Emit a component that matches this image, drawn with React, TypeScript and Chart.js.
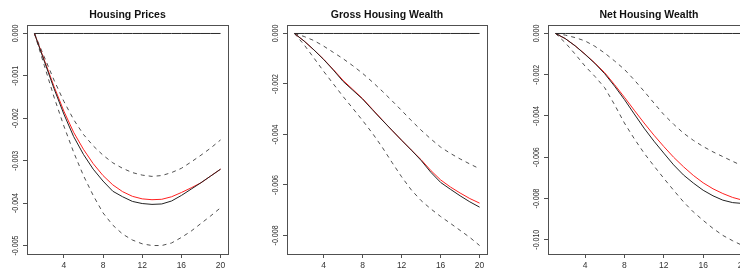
import React, { useEffect, useRef } from "react";
import { Chart, registerables } from "chart.js";

Chart.register(...registerables);

// ---------- data ----------
const periods = [1, 2, 3, 4, 5, 6, 7, 8, 9, 10, 11, 12, 13, 14, 15, 16, 17, 18, 19, 20];

const zeroLine = [0, 0, 0, 0, 0, 0, 0, 0, 0, 0, 0, 0, 0, 0, 0, 0, 0, 0, 0, 0];

// Housing Prices
const hpBlack = [0, -0.00065, -0.0013, -0.0019, -0.00243, -0.00285, -0.0032, -0.00348, -0.00372, -0.00385,
  -0.00396, -0.00401, -0.00403, -0.00402, -0.00395, -0.00382, -0.00367, -0.00352, -0.00336, -0.0032];
const hpRed = [0, -0.00062, -0.00125, -0.00183, -0.00233, -0.00273, -0.00307, -0.00335, -0.00357, -0.00373,
  -0.00384, -0.0039, -0.00392, -0.00391, -0.00385, -0.00375, -0.00364, -0.00352, -0.00336, -0.0032];
const hpUpper = [0, -0.00055, -0.0011, -0.0016, -0.00203, -0.00238, -0.00265, -0.00287, -0.00305, -0.00318,
  -0.00328, -0.00334, -0.00337, -0.00335, -0.00328, -0.00318, -0.00303, -0.00287, -0.0027, -0.00251];
const hpLower = [0, -0.00075, -0.0015, -0.00218, -0.0028, -0.00335, -0.00382, -0.00423, -0.00452, -0.00473,
  -0.00487, -0.00496, -0.005, -0.005, -0.00494, -0.00481, -0.00466, -0.00448, -0.0043, -0.00411];

// Gross Housing Wealth
const ghwBlack = [0, -0.0003, -0.00065, -0.00103, -0.00145, -0.0019, -0.00225, -0.0026, -0.00302, -0.00343,
  -0.00383, -0.00423, -0.00462, -0.00503, -0.0055, -0.0059, -0.00617, -0.00643, -0.00667, -0.00688];
const ghwRed = [0, -0.0003, -0.00065, -0.00102, -0.00143, -0.00186, -0.00222, -0.00258, -0.003, -0.00342,
  -0.00383, -0.00423, -0.00462, -0.005, -0.00543, -0.0058, -0.00608, -0.00632, -0.00654, -0.00672];
const ghwUpper = [0, -0.00012, -0.00028, -0.0005, -0.00075, -0.001, -0.00128, -0.00158, -0.00192, -0.00228,
  -0.00266, -0.00305, -0.00345, -0.00383, -0.00418, -0.0045, -0.00475, -0.00497, -0.00517, -0.00536];
const ghwLower = [0, -0.00045, -0.00097, -0.0015, -0.002, -0.0025, -0.00297, -0.00345, -0.00395, -0.0045,
  -0.0051, -0.00568, -0.0062, -0.00662, -0.00695, -0.00725, -0.00752, -0.0078, -0.00808, -0.0084];

// Net Housing Wealth
const nhwBlack = [0, -0.00025, -0.0006, -0.00101, -0.00145, -0.00195, -0.00255, -0.0032, -0.0039, -0.00459,
  -0.00522, -0.0058, -0.00637, -0.00686, -0.00725, -0.0076, -0.00787, -0.00808, -0.0082, -0.00824];
const nhwRed = [0, -0.00025, -0.0006, -0.001, -0.00143, -0.0019, -0.00248, -0.00309, -0.00372, -0.00434,
  -0.00493, -0.00548, -0.006, -0.00646, -0.00688, -0.00724, -0.00753, -0.00776, -0.00795, -0.00808];
const nhwUpper = [0, -0.00008, -0.0002, -0.00036, -0.00062, -0.00095, -0.00133, -0.00174, -0.00225, -0.0028,
  -0.00337, -0.00393, -0.0044, -0.00483, -0.00518, -0.00548, -0.00574, -0.00597, -0.0062, -0.00642];
const nhwLower = [0, -0.00045, -0.001, -0.00158, -0.00208, -0.00263, -0.00345, -0.00434, -0.0051, -0.0058,
  -0.00642, -0.00702, -0.0076, -0.00816, -0.00865, -0.00906, -0.00945, -0.00979, -0.01005, -0.01028];

const xTickValues = [4, 8, 12, 16, 20];
const xTickLabels = ["4", "8", "12", "16", "20"];

const hpYTicks = [0, -0.001, -0.002, -0.003, -0.004, -0.005];
const hpYLabels = ["0.000", "-0.001", "-0.002", "-0.003", "-0.004", "-0.005"];
const ghwYTicks = [0, -0.002, -0.004, -0.006, -0.008];
const ghwYLabels = ["0.000", "-0.002", "-0.004", "-0.006", "-0.008"];
const nhwYTicks = [0, -0.002, -0.004, -0.006, -0.008, -0.01];
const nhwYLabels = ["0.000", "-0.002", "-0.004", "-0.006", "-0.008", "-0.010"];

const titles = ["Housing Prices", "Gross Housing Wealth", "Net Housing Wealth"];

// ---------- component ----------
type PanelProps = {
  left: number;
  width: number;
  boxLeft: number;
  boxRight: number;
  title: string;
  black: number[];
  red: number[];
  upper: number[];
  lower: number[];
  yTicks: number[];
  yLabels: string[];
};

const H = 271;
const BOX_TOP = 25;
const BOX_BOTTOM = 254;

function toPts(arr: number[]) {
  return periods.map((p, i) => ({ x: p, y: arr[i] }));
}

function Panel(props: PanelProps) {
  const ref = useRef<HTMLCanvasElement | null>(null);
  useEffect(() => {
    const canvas = ref.current;
    if (!canvas) return;
    const all = [...props.black, ...props.red, ...props.upper, ...props.lower, ...zeroLine];
    const dMin = Math.min(...all);
    const dMax = Math.max(...all);
    const r = dMax - dMin;
    const yMin = dMin - 0.04 * r;
    const yMax = dMax + 0.04 * r;
    const xr = periods[periods.length - 1] - periods[0];
    const xMin = periods[0] - 0.04 * xr;
    const xMax = periods[periods.length - 1] + 0.04 * xr;
    const yAxisWidth = props.boxLeft - props.left;
    const rightPad = props.width - (props.boxRight - props.left);

    const framePlugin = {
      id: "rframe",
      afterDraw(chart: any) {
        const { ctx, chartArea } = chart;
        const ys = chart.scales.y;
        ctx.save();
        ctx.strokeStyle = "#505050";
        ctx.lineWidth = 1;
        ctx.strokeRect(
          Math.round(chartArea.left) + 0.5,
          Math.round(chartArea.top) + 0.5,
          Math.round(chartArea.right - chartArea.left),
          Math.round(chartArea.bottom - chartArea.top)
        );
        // title
        ctx.fillStyle = "#111";
        ctx.font = "bold 10.5px 'Liberation Sans', Arial, sans-serif";
        ctx.textAlign = "center";
        ctx.textBaseline = "middle";
        ctx.fillText(props.title, (chartArea.left + chartArea.right) / 2, 15);
        // rotated y tick labels
        ctx.font = "9.5px 'Liberation Sans', Arial, sans-serif";
        ctx.fillStyle = "#333";
        ys.ticks.forEach((t: any, i: number) => {
          const py = ys.getPixelForValue(t.value);
          ctx.save();
          ctx.translate(chartArea.left - 12, py);
          ctx.rotate(-Math.PI / 2);
          ctx.scale(0.74, 1);
          ctx.textAlign = "center";
          ctx.textBaseline = "middle";
          ctx.fillText(props.yLabels[i], 0, 0);
          ctx.restore();
        });
        ctx.restore();
      },
    };

    const chart = new Chart(canvas, {
      type: "line",
      data: {
        datasets: [
          { data: toPts(zeroLine), borderColor: "#2a2a2a", borderWidth: 1 },
          { data: toPts(props.black), borderColor: "#222", borderWidth: 1 },
          { data: toPts(props.red), borderColor: "#ff2020", borderWidth: 1 },
          { data: toPts(props.upper), borderColor: "#505050", borderWidth: 1, borderDash: [4, 4] },
          { data: toPts(props.lower), borderColor: "#505050", borderWidth: 1, borderDash: [4, 4] },
        ],
      },
      options: {
        animation: false,
        responsive: false,
        events: [],
        layout: { padding: { top: BOX_TOP, right: rightPad, left: 0, bottom: 0 } },
        elements: { point: { radius: 0 }, line: { tension: 0, borderWidth: 1 } },
        plugins: { legend: { display: false }, tooltip: { enabled: false }, title: { display: false } },
        scales: {
          x: {
            type: "linear",
            min: xMin,
            max: xMax,
            afterBuildTicks: (s: any) => {
              s.ticks = xTickValues.map((v) => ({ value: v }));
            },
            afterFit: (s: any) => {
              s.height = H - BOX_BOTTOM;
            },
            grid: { drawOnChartArea: false, drawTicks: true, tickLength: 4, color: "#505050" },
            border: { display: false },
            ticks: {
              autoSkip: false,
              maxRotation: 0,
              minRotation: 0,
              padding: 2.5,
              color: "#333",
              font: { family: "'Liberation Sans', Arial, sans-serif", size: 8.5 },
              callback: (_v: any, i: number) => xTickLabels[i],
            },
          },
          y: {
            type: "linear",
            min: yMin,
            max: yMax,
            afterBuildTicks: (s: any) => {
              s.ticks = props.yTicks.map((v) => ({ value: v }));
            },
            afterFit: (s: any) => {
              s.width = yAxisWidth;
            },
            grid: { drawOnChartArea: false, drawTicks: true, tickLength: 4, color: "#505050" },
            border: { display: false },
            ticks: { display: false },
          },
        },
      },
      plugins: [framePlugin],
    } as any);
    return () => chart.destroy();
  }, []);
  return (
    <canvas
      ref={ref}
      width={props.width}
      height={H}
      style={{ position: "absolute", left: props.left, top: 0, width: props.width, height: H }}
    />
  );
}

export default function App() {
  return (
    <div
      style={{
        position: "fixed",
        left: 0,
        top: 0,
        width: 740,
        height: H,
        overflow: "hidden",
        background: "#fff",
      }}
    >
      <Panel left={0} width={250} boxLeft={27} boxRight={228} title={titles[0]}
        black={hpBlack} red={hpRed} upper={hpUpper} lower={hpLower} yTicks={hpYTicks} yLabels={hpYLabels} />
      <Panel left={258} width={250} boxLeft={287} boxRight={487} title={titles[1]}
        black={ghwBlack} red={ghwRed} upper={ghwUpper} lower={ghwLower} yTicks={ghwYTicks} yLabels={ghwYLabels} />
      <Panel left={518} width={260} boxLeft={548} boxRight={750} title={titles[2]}
        black={nhwBlack} red={nhwRed} upper={nhwUpper} lower={nhwLower} yTicks={nhwYTicks} yLabels={nhwYLabels} />
    </div>
  );
}
